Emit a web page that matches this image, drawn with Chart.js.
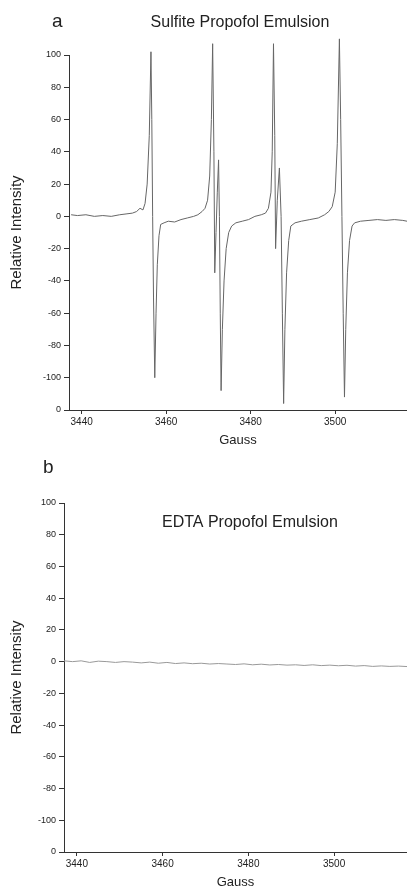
<!DOCTYPE html>
<html>
<head>
<meta charset="utf-8">
<script src="https://cdn.jsdelivr.net/npm/chart.js@4.4.1/dist/chart.umd.min.js"></script>
<style>
  html, body { margin: 0; padding: 0; background: #fff; }
  #wrap { position: relative; width: 407px; height: 895px; }
  .panel { position: absolute; left: 0; width: 407px; }
</style>
</head>
<body>
<div id="wrap">
  <div class="panel" style="top:0;height:448px"><canvas id="chartA"></canvas></div>
  <div class="panel" style="top:448px;height:442px"><canvas id="chartB"></canvas></div>
</div>
<script>
// axis ticks (the bottom tick is printed as "0" in the figure)
const gaussTicks = [3440, 3460, 3480, 3500];
const intensityTicks = [-120, -100, -80, -60, -40, -20, 0, 20, 40, 60, 80, 100];
const intensityLabels = ['0', '-100', '-80', '-60', '-40', '-20', '0', '20', '40', '60', '80', '100'];

// panel a: sulfite emulsion, four-line spectrum
const gaussA = [
  3437.5, 3439, 3441, 3443, 3445, 3447, 3449, 3450.5, 3452, 3453, 3453.8, 3454.5, 3455, 3455.5, 3456.0, 3456.4,
  3456.6, 3456.8, 3457.0, 3457.3, 3457.6, 3457.9, 3458.3, 3458.7, 3459.5, 3460.5, 3462, 3463.5, 3465, 3466.5,
  3467.5, 3468.5, 3469.2, 3469.8, 3470.3, 3470.7, 3471.0, 3471.3, 3471.5, 3471.8, 3472.1, 3472.4, 3472.6, 3472.8,
  3473.0, 3473.3, 3473.7, 3474.2, 3474.8, 3475.5, 3476.5, 3478, 3479.5, 3481, 3482.5, 3483.5, 3484.2, 3484.8,
  3485.1, 3485.4, 3485.7, 3485.9, 3486.3, 3486.8, 3487.2, 3487.5, 3487.8, 3488.1, 3488.5, 3489, 3489.5, 3490.5,
  3492, 3494, 3496, 3497.5, 3498.5, 3499.3, 3500, 3500.5, 3501.0, 3501.3, 3501.6, 3501.9, 3502.2, 3502.5, 3502.9,
  3503.4, 3504.0, 3504.6, 3506, 3508, 3510, 3512, 3514, 3516, 3517
];
const intensityA = [
  1, 0.5, 1, 0, 0.5, 0, 1, 1.5, 2, 3, 5, 4, 8, 20, 50, 102,
  60, 0, -50, -100, -60, -30, -12, -5, -4, -3, -3.5, -2, -1, 0,
  1, 3, 5, 10, 25, 60, 107, 40, -35, -10, 15, 35, 0, -60,
  -108, -70, -40, -20, -10, -6, -4, -3, -2, 0, 1, 2, 5, 15,
  40, 107, 50, -20, 10, 30, 0, -60, -116, -70, -35, -15, -6, -4,
  -3, -2, -1, 1, 3, 6, 15, 45, 110, 60, 0, -60, -112, -70, -35,
  -15, -6, -4, -3, -2.5, -2, -2.5, -2, -2.5, -3
];

// panel b: EDTA emulsion, flat baseline
const gaussB = [
  3437, 3439, 3441, 3443, 3445, 3447, 3449, 3451, 3453, 3455, 3457, 3459, 3461, 3463, 3465, 3467, 3469, 3471,
  3473, 3475, 3477, 3479, 3481, 3483, 3485, 3487, 3489, 3491, 3493, 3495, 3497, 3499, 3501, 3503, 3505, 3507,
  3509, 3511, 3513, 3515, 3517
];
const intensityB = [
  0.5, 0, 0.5, -0.5, 0.3, 0, -0.5, 0, -0.3, -0.8, -0.3, -1, -0.5, -1.2, -0.8, -1.3, -1, -1.5,
  -1.2, -1.5, -1.8, -1.4, -2, -1.6, -2.1, -1.8, -2.2, -2, -2.4, -2, -2.5, -2.2, -2.6, -2.3, -2.8, -2.5,
  -3, -2.7, -3, -2.8, -3.1
];

const FONT = '"Liberation Sans", Arial, Helvetica, sans-serif';
const INK = '#222';

// draws the panel letter and the sample name
const panelText = {
  id: 'panelText',
  afterDraw(chart, args, opts) {
    const ctx = chart.ctx;
    ctx.save();
    ctx.fillStyle = INK;
    ctx.textBaseline = 'alphabetic';
    (opts.items || []).forEach(t => {
      ctx.font = t.size + 'px ' + FONT;
      ctx.textAlign = t.align;
      ctx.fillText(t.text, t.x, t.y);
    });
    ctx.restore();
  }
};

const makeChart = (canvasId, xs, ys, color, axisLeft, padTop, texts) => {
  const ctx = document.getElementById(canvasId).getContext('2d');
  return new Chart(ctx, {
    type: 'line',
    data: {
      datasets: [{
        data: xs.map((x, i) => ({ x: x, y: ys[i] })),
        borderColor: color,
        borderWidth: 1,
        pointRadius: 0,
        tension: 0,
        clip: false
      }]
    },
    options: {
      responsive: true,
      maintainAspectRatio: false,
      animation: false,
      layout: { padding: { top: padTop, left: 0, right: 0, bottom: 0 } },
      plugins: {
        legend: { display: false },
        tooltip: { enabled: false },
        panelText: { items: texts }
      },
      scales: {
        x: {
          type: 'linear',
          min: 3437,
          max: 3517,
          afterBuildTicks: scale => { scale.ticks = gaussTicks.map(v => ({ value: v })); },
          afterFit: scale => { scale.height = 38; },
          grid: { drawOnChartArea: false, drawTicks: true, tickLength: 4, color: '#333' },
          border: { display: true, color: '#333', width: 1 },
          ticks: {
            color: INK,
            font: { family: FONT, size: 10 },
            padding: 2,
            maxRotation: 0,
            callback: v => String(v)
          },
          title: { display: true, text: 'Gauss', color: INK, font: { family: FONT, size: 13 }, padding: { top: 2, bottom: 0 } }
        },
        y: {
          type: 'linear',
          min: -120,
          max: 100,
          afterBuildTicks: scale => { scale.ticks = intensityTicks.map(v => ({ value: v })); },
          afterFit: scale => { scale.width = axisLeft; },
          grid: { drawOnChartArea: false, drawTicks: true, tickLength: 5, color: '#333' },
          border: { display: true, color: '#333', width: 1 },
          ticks: {
            color: INK,
            font: { family: FONT, size: 9 },
            padding: 3,
            callback: (v, i) => intensityLabels[i]
          },
          title: { display: true, text: 'Relative Intensity', color: INK, font: { family: FONT, size: 15 }, padding: { top: 8, bottom: 0 } }
        }
      }
    },
    plugins: [panelText]
  });
};

makeChart('chartA', gaussA, intensityA, '#666', 69, 55, [
  { text: 'a', x: 52, y: 27, size: 19, align: 'left' },
  { text: 'Sulfite Propofol Emulsion', x: 240, y: 27, size: 16, align: 'center' }
]);

makeChart('chartB', gaussB, intensityB, '#999', 64, 55, [
  { text: 'b', x: 43, y: 25, size: 19, align: 'left' },
  { text: 'EDTA Propofol Emulsion', x: 162, y: 79, size: 16, align: 'left' }
]);
</script>
</body>
</html>
